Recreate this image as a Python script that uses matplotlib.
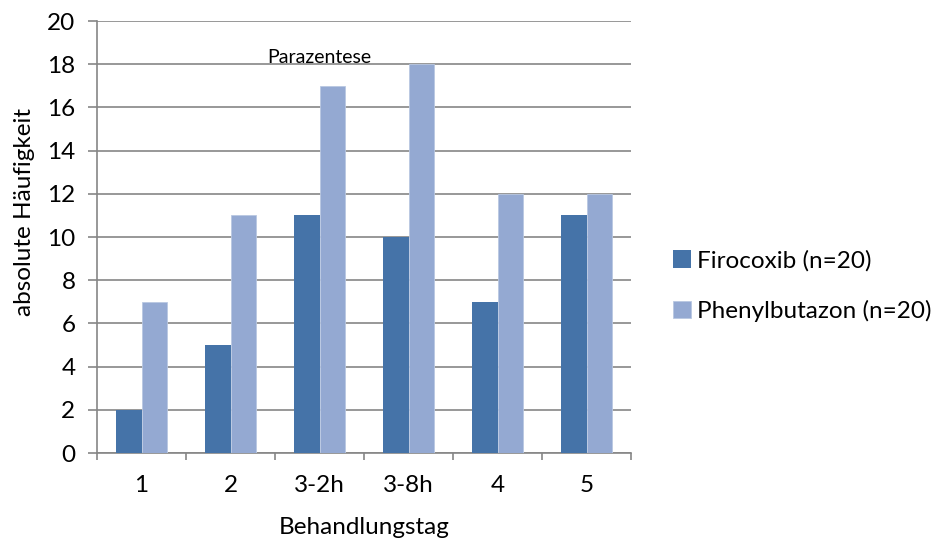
import matplotlib.pyplot as plt
import numpy as np

plt.rcParams['font.family'] = ['Lato', 'DejaVu Sans']

tage = ['1', '2', '3-2h', '3-8h', '4', '5']
firocoxib = [2, 5, 11, 10, 7, 11]
phenylbutazon = [7, 11, 17, 18, 12, 12]

dunkel = '#4573A8'
hell = '#94A9D2'
grau = '#868686'
fs = 17.5

fig = plt.figure(figsize=(9.33, 5.38), dpi=100)
ax = fig.add_axes([97 / 933, 1 - 453 / 538, 534 / 933, 432 / 538])

x = np.arange(len(tage))
w = 0.285
ax.bar(x - w / 2, firocoxib, w, color=dunkel, label='Firocoxib (n=20)', zorder=3)
ax.bar(x + w / 2, phenylbutazon, w, color=hell, edgecolor='#B9C8E2', linewidth=0.6,
       label='Phenylbutazon (n=20)', zorder=3)

ax.set_xlim(-0.5, len(tage) - 0.5)
ax.set_ylim(0, 20)
ax.set_yticks(range(0, 21, 2))
ax.yaxis.grid(True, color=grau, linewidth=1.2, zorder=0)

# Kategorienamen mittig, Teilstriche an den Kategoriegrenzen
ax.set_xticks(x)
ax.set_xticklabels(tage)
ax.set_xticks(np.arange(-0.5, len(tage)), minor=True)
ax.tick_params(axis='x', which='major', length=0, pad=16, labelsize=fs)
ax.tick_params(axis='x', which='minor', length=5, width=1.2, color=grau)
ax.tick_params(axis='y', length=6.5, width=1.2, color=grau, labelsize=fs, pad=9)

for s in ['top', 'right']:
    ax.spines[s].set_visible(False)
for s in ['left', 'bottom']:
    ax.spines[s].set_color(grau)
    ax.spines[s].set_linewidth(1.2)

ax.text(2, 18.06, 'Parazentese', ha='center', va='baseline', fontsize=14)

fig.text(364 / 933, 1 - 527 / 538, 'Behandlungstag', ha='center', va='center', fontsize=fs)
fig.text(25 / 933, 1 - 212 / 538, 'absolute Häufigkeit', ha='center', va='center',
         rotation=90, fontsize=fs)

fig.legend(*ax.get_legend_handles_labels(), loc='center left',
           bbox_to_anchor=(673 / 933, 1 - 286 / 538), frameon=False, fontsize=fs,
           borderpad=0, borderaxespad=0, handlelength=0.75, handleheight=0.75,
           handletextpad=0.25, labelspacing=1.17)

fig.savefig('out.png', dpi=100)
